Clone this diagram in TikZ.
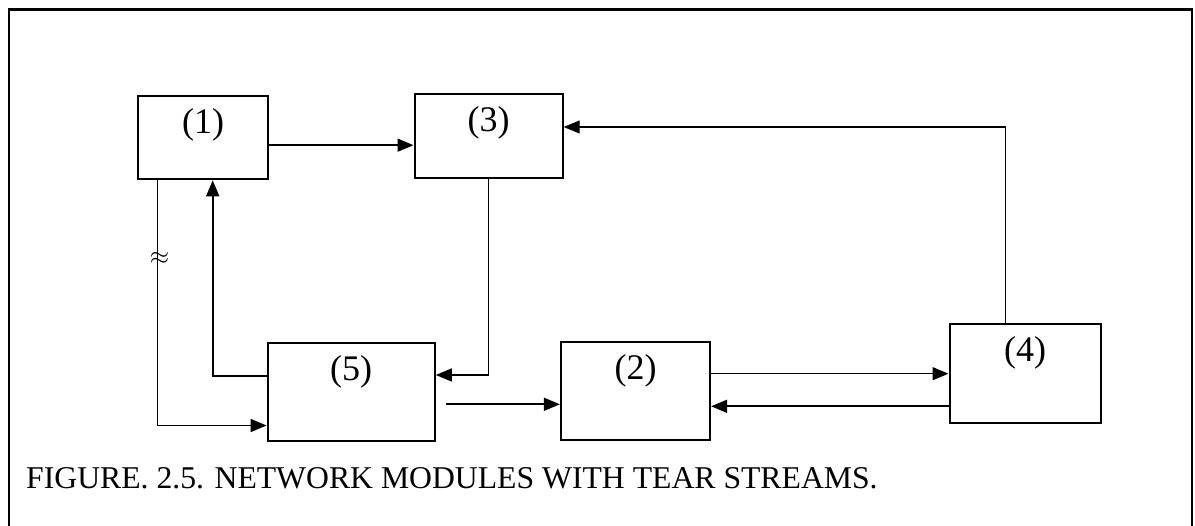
\documentclass[tikz,border=0pt]{standalone}
\usepackage{fontspec}
\setmainfont{Liberation Serif}
\usetikzlibrary{arrows.meta}
\begin{document}
\begin{tikzpicture}[x=1pt,y=-1pt,
  module/.style={draw, line width=2.2pt, inner sep=0pt},
  tag/.style={font=\fontsize{36}{40}\selectfont, anchor=base, inner sep=0pt},
  flow/.style={line width=1.6pt, -{Triangle[length=16pt,width=13pt]}},
  thinflow/.style={flow, line width=1.1pt}
]
\useasboundingbox (0,0) rectangle (1195,526);
\fill[white] (0,0) rectangle (1195,526);
% open frame round the figure
\draw[line width=2.2pt] (9,526) -- (9,9.5) -- (1192,9.5) -- (1192,526);

% modules
\node[module, minimum width=130pt, minimum height=83pt]  (b1) at (203.2,137.7) {};
\node[module, minimum width=148pt, minimum height=84pt]  (b3) at (488.6,136.4) {};
\node[module, minimum width=167pt, minimum height=98pt]  (b5) at (351.2,391.9) {};
\node[module, minimum width=149pt, minimum height=98pt]  (b2) at (635.5,391.0) {};
\node[module, minimum width=151pt, minimum height=99pt]  (b4) at (1025.1,373.2) {};

\node[tag] (t1) at ([yshift=-38.5pt]b1.north) {(1)};
\node[tag] (t3) at ([yshift=-38.5pt]b3.north) {(3)};
\node[tag] (t5) at ([yshift=-38.5pt]b5.north) {(5)};
\node[tag] (t2) at ([yshift=-38.5pt]b2.north) {(2)};
\node[tag] (t4) at ([yshift=-38.5pt]b4.north) {(4)};

% streams
\draw[flow] (b1.east |- 0,145.2) -- (b3.west |- 0,145.2);
\draw[thinflow] (b4.north -| 1005.7,0) |- (b3.east |- 0,127);
\draw[flow] (b3.south) |- (b5.east |- 0,375);
\draw[flow] (b5.west |- 0,376) -| (b1.south -| 212.7,0);
\draw[flow] (b1.south -| 157.3,0) |- (b5.west |- 0,425.5);
\node[font=\fontsize{26}{30}\selectfont, inner sep=0pt] (tear) at (159.5,258) {$\approx$};
\coordinate (o5) at ([xshift=10pt]b5.east);
\draw[flow] (o5 |- 0,404.3) -- (b2.west |- 0,404.3);
\draw[flow] (b2.east |- 0,373.7) -- (b4.west |- 0,373.7);
\draw[flow] (b4.west |- 0,406.3) -- (b2.east |- 0,406.3);

% caption
\node[font=\fontsize{31.7}{36}\selectfont, anchor=base west, inner sep=0pt] (cap) at (26,488.3)
  {FIGURE. 2.5. NETWORK MODULES WITH TEAR STREAMS.};
\end{tikzpicture}
\end{document}
